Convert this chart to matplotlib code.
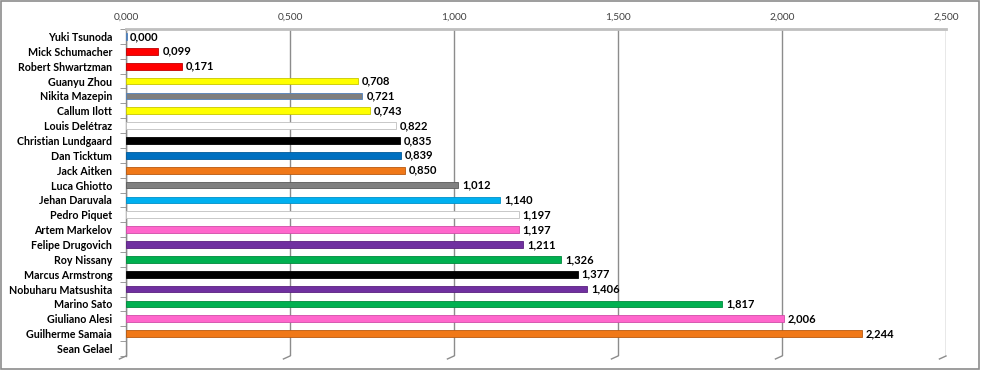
import matplotlib
matplotlib.use("Agg")
import matplotlib.pyplot as plt
from matplotlib.patches import Rectangle
from matplotlib.lines import Line2D

drivers = ["Yuki Tsunoda", "Mick Schumacher", "Robert Shwartzman", "Guanyu Zhou",
           "Nikita Mazepin", "Callum Ilott", "Louis Delétraz", "Christian Lundgaard",
           "Dan Ticktum", "Jack Aitken", "Luca Ghiotto", "Jehan Daruvala",
           "Pedro Piquet", "Artem Markelov", "Felipe Drugovich", "Roy Nissany",
           "Marcus Armstrong", "Nobuharu Matsushita", "Marino Sato", "Giuliano Alesi",
           "Guilherme Samaia", "Sean Gelael"]
values = [0.000, 0.099, 0.171, 0.708, 0.721, 0.743, 0.822, 0.835, 0.839, 0.850,
          1.012, 1.140, 1.197, 1.197, 1.211, 1.326, 1.377, 1.406, 1.817, 2.006,
          2.244, None]
colors = ["#4F81BD", "#FF0000", "#FF0000", "#FFFF00", "#7F7F7F", "#FFFF00",
          "#FFFFFF", "#000000", "#0070C0", "#F07818", "#808080", "#00B0F0",
          "#FFFFFF", "#FF66CC", "#7030A0", "#00B050", "#000000", "#7030A0",
          "#00B050", "#FF66CC", "#F07818", "#FFFFFF"]
edges = ["#4F81BD", "#C00000", "#C00000", "#C8C800", "#4F81BD", "#C8C800",
         "#BFBFBF", "#000000", "#005A9A", "#B85A10", "#5A5A5A", "#0090C8",
         "#BFBFBF", "#D04CA8", "#5A2080", "#008A3C", "#000000", "#5A2080",
         "#008A3C", "#D04CA8", "#B85A10", "#FFFFFF"]
ticks = [0, 0.5, 1.0, 1.5, 2.0, 2.5]

fam = ["Liberation Sans Narrow", "Lato", "DejaVu Sans"]

fig = plt.figure(figsize=(9.81, 3.70), dpi=100)
ax = fig.add_axes([126 / 981, 1 - 356 / 370, 820 / 981, 327 / 370])

n = len(drivers)
ypos = list(range(n))
for i, (v, c, e) in enumerate(zip(values, colors, edges)):
    if v is None:
        continue
    w = v if v > 0 else 0.004
    ax.barh(i, w, height=0.45, color=c, edgecolor=e, linewidth=0.6, zorder=3)
    ax.text(v + 0.012, i, f"{v:.3f}".replace(".", ","), va="center", ha="left",
            fontsize=8, fontweight="bold", family=fam, color="#000000", zorder=4)

ax.set_xlim(0, 2.5)
ax.set_ylim(n - 0.5, -0.5)
ax.set_yticks(ypos)
ax.set_yticklabels(drivers, fontsize=7.7, fontweight="bold", family=fam, color="#000000")
ax.set_xticks(ticks)
ax.set_xticklabels([f"{t:.3f}".replace(".", ",") for t in ticks], fontsize=7.3,
                   family=fam, color="#404040")
ax.xaxis.tick_top()
ax.tick_params(axis="x", length=0, pad=5)
ax.tick_params(axis="y", length=0, pad=10)
ax.grid(axis="x", color="#8C8C8C", linewidth=1.0, zorder=0)

for s in ["right", "bottom"]:
    ax.spines[s].set_visible(False)
ax.spines["top"].set_color("#BFBFBF")
ax.spines["top"].set_linewidth(2)
ax.spines["left"].set_color("#8C8C8C")
ax.spines["left"].set_linewidth(1)

# minor ticks on the category axis, between categories
ax.set_yticks([i - 0.5 for i in range(n + 1)], minor=True)
ax.tick_params(axis="y", which="minor", length=4, color="#8C8C8C", direction="out")

# small diagonal feet under the gridlines (3D look)
for t in ticks:
    ax.add_line(Line2D([t, t - 0.02], [n - 0.5, n - 0.3], color="#8C8C8C",
                       linewidth=1, clip_on=False))

fig.patches.append(Rectangle((0.001, 0.003), 0.997, 0.994, transform=fig.transFigure,
                             fill=False, edgecolor="#8C8C8C", linewidth=1.2))

fig.savefig("out.png", dpi=100)
